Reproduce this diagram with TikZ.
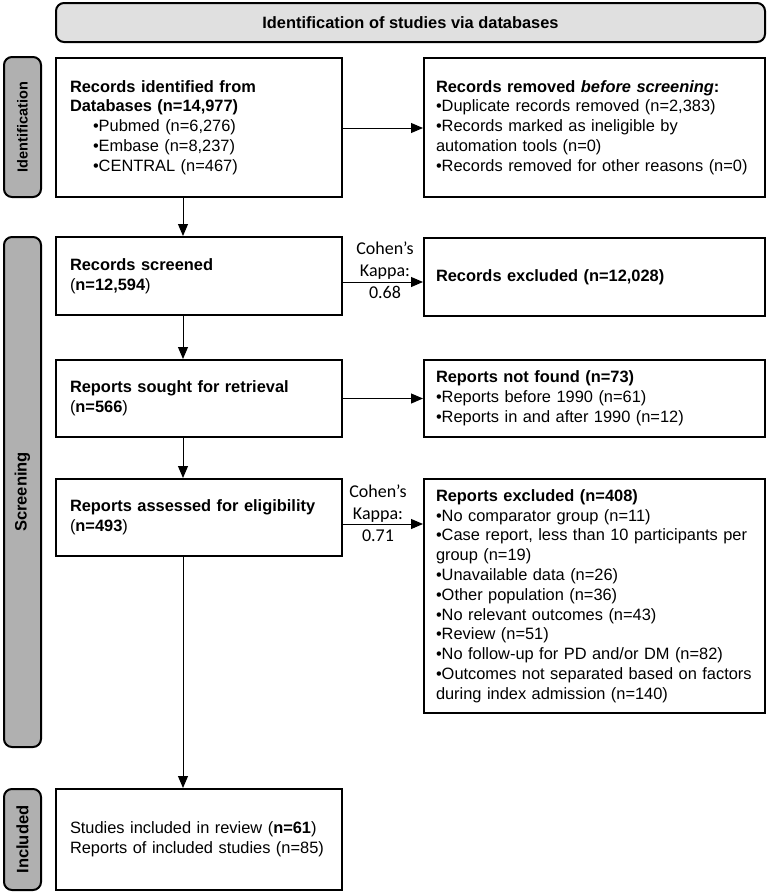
\documentclass[tikz,border=0pt]{standalone}
\usepackage{fontspec}
\setmainfont{Liberation Sans}
\newfontfamily\calib{Carlito}
\usetikzlibrary{calc,arrows.meta}
\newcommand\mainfs{\fontsize{12.3}{14.85}\selectfont}
\newcommand\ind{\hspace*{17.25pt}}
\begin{document}
\begin{tikzpicture}[x=0.75pt,y=-0.75pt,
  box/.style={draw=black,line width=1.5pt,fill=white,inner sep=0pt,align=left,font=\mainfs},
  lbox/.style={box,minimum width=214.5pt,text width=193.5pt},
  rbox/.style={box,minimum width=255.75pt,text width=237.75pt},
  hdrbox/.style={draw=black,line width=1.5pt,fill=hdrgray,rounded corners=6pt,inner sep=0pt,
    minimum width=531.75pt,minimum height=29.25pt,font=\mainfs\bfseries},
  barbox/.style={draw=black,line width=1.5pt,fill=bargray,rounded corners=6pt,inner sep=0pt,
    minimum width=27.75pt},
  barlabel/.style={rotate=90,font=\fontsize{12.4}{14}\selectfont\bfseries},
  kappa/.style={align=center,inner sep=0pt,font=\calib\fontsize{13.5}{16.5}\selectfont},
  arr/.style={line width=0.75pt,-{Triangle[length=9pt,width=7.5pt]}}]
\definecolor{hdrgray}{HTML}{E0E0E0}
\definecolor{bargray}{HTML}{B0B0B0}
\useasboundingbox (0,0) rectangle (767,894);

% header
\node[hdrbox] (hdr) at (410.5,22.5) {Identification of studies via databases};

% side bars
\node[barbox,minimum height=105pt] (barid) at (22.5,127) {};
\node[barlabel,font=\fontsize{10.9}{13}\selectfont\bfseries] (lid) at (barid.center) {Identification};
\node[barbox,minimum height=382.5pt] (barsc) at (22.5,492) {};
\node[barlabel] (lsc) at (barsc.center) {Screening};
\node[barbox,minimum height=75.75pt] (barin) at (22.5,839.5) {};
\node[barlabel] (lin) at (barin.center) {Included};

% left column
\node[lbox,minimum height=104.25pt] (b1) at (199,127.5) {\textbf{Records identified from}\\
\textbf{Databases (n=14,977)}\\
\ind•Pubmed (n=6,276)\\
\ind•Embase (n=8,237)\\
\ind•CENTRAL (n=467)};
\node[lbox,minimum height=58.5pt] (b3) at (199,276) {\textbf{Records screened}\\(\textbf{n=12,594})};
\node[lbox,minimum height=57.75pt] (b4) at (199,398.5) {\textbf{Reports sought for retrieval}\\(\textbf{n=566})};
\node[lbox,minimum height=57.75pt] (b5) at (199,517.5) {\textbf{Reports assessed for eligibility}\\(\textbf{n=493})};
\node[lbox,minimum height=75.75pt] (inc) at (199,839.5) {Studies included in review (\textbf{n=61})\\Reports of included studies (n=85)};

% right column
\node[rbox,minimum height=104.25pt] (b2) at (594.5,127.5) {\textbf{Records removed \textit{before screening}:}\\
•Duplicate records removed (n=2,383)\\
•Records marked as ineligible by\\
automation tools (n=0)\\
•Records removed for other reasons (n=0)};
\node[rbox,minimum height=58.5pt] (rx) at (594.5,277) {\textbf{Records excluded (n=12,028)}};
\node[rbox,minimum height=57.75pt] (nf) at (594.5,398.5) {\textbf{Reports not found (n=73)}\\
•Reports before 1990 (n=61)\\
•Reports in and after 1990 (n=12)};
\node[rbox,minimum height=175.5pt] (ex) at (594.5,596) {\textbf{Reports excluded (n=408)}\\
•No comparator group (n=11)\\
•Case report, less than 10 participants per\\
group (n=19)\\
•Unavailable data (n=26)\\
•Other population (n=36)\\
•No relevant outcomes (n=43)\\
•Review (n=51)\\
•No follow-up for PD and/or DM (n=82)\\
•Outcomes not separated based on factors\\
during index admission (n=140)};

% kappa labels
\node[kappa] (k1) at (385,270) {Cohen’s\\Kappa:\\0.68};
\node[kappa] (k2) at (378,513) {Cohen’s\\Kappa:\\0.71};

% arrow start points
\coordinate (h1) at ($(b1.east)+(0,0.5)$);
\coordinate (h2) at ($(b3.east)+(0,6)$);
\coordinate (h3) at (b4.east);
\coordinate (h4) at ($(b5.east)+(0,6.5)$);
\coordinate (v1) at ($(b1.south)+(-16,0)$);
\coordinate (v2) at ($(b3.south)+(-16,0)$);
\coordinate (v3) at ($(b4.south)+(-16,0)$);
\coordinate (v4) at ($(b5.south)+(-16,0)$);

% horizontal arrows
\draw[arr] (h1) -- (h1 -| b2.west);
\draw[arr] (h2) -- (h2 -| rx.west);
\draw[arr] (h3) -- (h3 -| nf.west);
\draw[arr] (h4) -- (h4 -| ex.west);

% vertical arrows
\draw[arr] (v1) -- (v1 |- b3.north);
\draw[arr] (v2) -- (v2 |- b4.north);
\draw[arr] (v3) -- (v3 |- b5.north);
\draw[arr] (v4) -- (v4 |- inc.north);
\end{tikzpicture}
\end{document}
